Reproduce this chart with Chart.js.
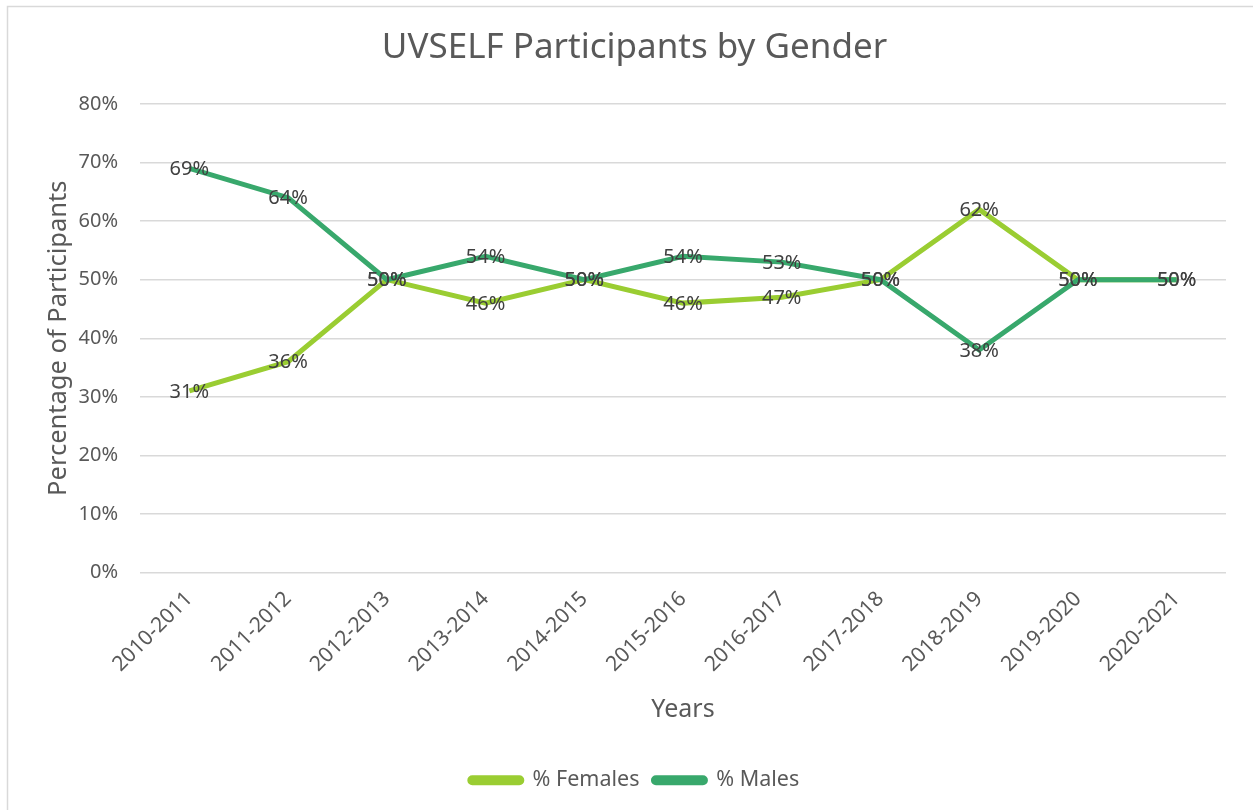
<!DOCTYPE html>
<html>
<head>
<meta charset="utf-8">
<script src="https://cdn.jsdelivr.net/npm/chart.js@4/dist/chart.umd.min.js"></script>
<style>
html,body{margin:0;padding:0;background:#fff;}
#wrap{width:1253px;height:810px;position:relative;}
</style>
</head>
<body>
<div id="wrap"><canvas id="c" width="1253" height="810"></canvas></div>
<script>
const categories = ["2010-2011","2011-2012","2012-2013","2013-2014","2014-2015","2015-2016","2016-2017","2017-2018","2018-2019","2019-2020","2020-2021"];
const females = [31,36,50,46,50,46,47,50,62,50,50];
const males = [69,64,50,54,50,54,53,50,38,50,50];
const yTicks = [0,10,20,30,40,50,60,70,80];

const FONT = "'Noto Sans', 'Open Sans', sans-serif";

const bgBorder = {
  id: 'bgBorder',
  beforeDraw(chart) {
    const ctx = chart.ctx;
    ctx.save();
    ctx.fillStyle = '#fff';
    ctx.fillRect(0, 0, chart.width, chart.height);
    ctx.strokeStyle = '#d9d9d9';
    ctx.lineWidth = 1.5;
    ctx.strokeRect(7.5, 6.5, chart.width + 10, chart.height + 10);
    ctx.restore();
  }
};

const dataLabels = {
  id: 'dataLabels',
  afterDatasetsDraw(chart) {
    const ctx = chart.ctx;
    ctx.save();
    ctx.font = '20px ' + FONT;
    ctx.fillStyle = '#404040';
    ctx.textAlign = 'center';
    ctx.textBaseline = 'middle';
    chart.data.datasets.forEach((ds, i) => {
      const meta = chart.getDatasetMeta(i);
      meta.data.forEach((pt, j) => {
        ctx.fillText(ds.data[j] + '%', pt.x, pt.y + 1);
      });
    });
    ctx.restore();
  }
};

new Chart(document.getElementById('c'), {
  type: 'line',
  data: {
    labels: categories,
    datasets: [
      { label: '% Females', data: females, borderColor: '#9acd32', backgroundColor: '#9acd32', borderWidth: 5, pointRadius: 0, tension: 0, order: 1 },
      { label: '% Males', data: males, borderColor: '#38a86c', backgroundColor: '#38a86c', borderWidth: 5, pointRadius: 0, tension: 0, order: 0 }
    ]
  },
  options: {
    responsive: false,
    animation: false,
    layout: { padding: { left: 43, right: 27, top: 0, bottom: 9 } },
    plugins: {
      tooltip: { enabled: false },
      title: {
        display: true,
        text: 'UVSELF Participants by Gender',
        color: '#595959',
        font: { family: FONT, size: 35, weight: 'normal' },
        padding: { top: 27, bottom: 35 }
      },
      legend: {
        position: 'bottom',
        labels: {
          sort: (a, b) => a.datasetIndex - b.datasetIndex,
          color: '#595959',
          font: { family: FONT, size: 21.5 },
          boxWidth: 52,
          boxHeight: 5,
          useBorderRadius: true,
          borderRadius: 2.5,
          padding: 14
        }
      }
    },
    scales: {
      x: {
        offset: true,
        grid: { display: false, drawTicks: false },
        border: { display: false },
        ticks: { color: '#595959', font: { family: FONT, size: 21 }, minRotation: 45, maxRotation: 45, padding: 14 },
        title: { display: true, text: 'Years', color: '#595959', font: { family: FONT, size: 25 }, padding: { top: 4, bottom: 31 } },
        afterFit(s) { s.height = 183; }
      },
      y: {
        min: 0, max: 80,
        afterBuildTicks(s) { s.ticks = yTicks.map(v => ({ value: v })); },
        grid: { color: '#d9d9d9', lineWidth: 1.5, drawTicks: false },
        border: { display: false },
        ticks: { color: '#595959', font: { family: FONT, size: 20 }, padding: 22, callback: v => v + '%' },
        title: { display: true, text: 'Percentage of Participants', color: '#595959', font: { family: FONT, size: 25.5 }, padding: { top: 0, bottom: 0 } },
        afterFit(s) { s.width = 97; }
      }
    }
  },
  plugins: [bgBorder, dataLabels]
});
</script>
</body>
</html>
